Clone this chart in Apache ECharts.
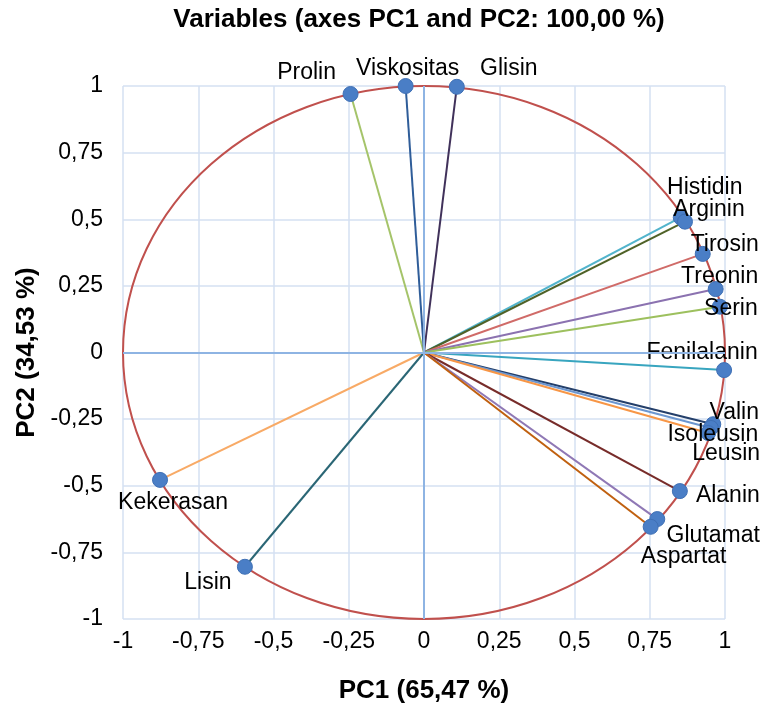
<!DOCTYPE html>
<html>
<head>
<meta charset="utf-8">
<script src="https://cdn.jsdelivr.net/npm/echarts@6/dist/echarts.min.js"></script>
<style>
  html, body { margin: 0; padding: 0; background: #fff; }
  #chart { width: 763px; height: 709px; }
</style>
</head>
<body>
<div id="chart"></div>
<script>
const names = ['Prolin', 'Viskositas', 'Glisin', 'Histidin', 'Arginin', 'Tirosin', 'Treonin', 'Serin',
  'Fenilalanin', 'Valin', 'Isoleusin', 'Leusin', 'Alanin', 'Glutamat', 'Aspartat', 'Kekerasan', 'Lisin']
const pc1 = [-0.244, -0.061, 0.109, 0.853, 0.867, 0.926, 0.969, 0.983,
  0.997, 0.961, 0.953, 0.944, 0.850, 0.775, 0.753, -0.877, -0.595]
const pc2 = [0.970, 1.000, 0.997, 0.507, 0.491, 0.370, 0.238, 0.172,
  -0.066, -0.269, -0.283, -0.302, -0.520, -0.625, -0.654, -0.478, -0.804]
const axisTicks = [-1, -0.75, -0.5, -0.25, 0, 0.25, 0.5, 0.75, 1]
const circleRadius = 1

// styling, kept apart from the data
const lineColors = ['#A5C46A', '#2F5D99', '#40315A', '#52B4CC', '#4F6228', '#D06B68', '#8B72B0', '#9DC05E',
  '#38A5BF', '#243F6A', '#6C96CF', '#F79646', '#772C2A', '#8F78B5', '#C0600F', '#F8AA66', '#2A6675']
const labelOffsets = {
  Prolin: [-44, -21], Viskositas: [2, -17], Glisin: [52, -18], Histidin: [24, -30], Arginin: [24, -12],
  Tirosin: [22, -9], Treonin: [4, -12], Serin: [11, 2], Fenilalanin: [-22, -17], Valin: [21, -12],
  Isoleusin: [2, 7], Leusin: [18, 21], Alanin: [48, 5], Glutamat: [56, 17], Aspartat: [33, 30],
  Kekerasan: [13, 23], Lisin: [-37, 16]
}
const FONT = '"Liberation Sans", Arial, sans-serif'
const fmt = v => String(v).replace('.', ',')

const chart = echarts.init(document.getElementById('chart'))

const vectorSeries = names.map((n, i) => ({
  name: n,
  type: 'line',
  data: [[0, 0], [pc1[i], pc2[i]]],
  showSymbol: false,
  silent: true,
  z: 2,
  lineStyle: { color: lineColors[i], width: 2 }
}))

const option = {
  backgroundColor: '#fff',
  animation: false,
  title: {
    text: 'Variables (axes PC1 and PC2: 100,00 %)',
    left: 419,
    top: 7,
    textAlign: 'center',
    padding: 0,
    textStyle: { fontFamily: FONT, fontSize: 26, fontWeight: 'bold', color: '#000' }
  },
  grid: { left: 123, right: 38, top: 86, bottom: 90 },
  xAxis: {
    type: 'value', min: -1, max: 1, interval: 0.25,
    name: 'PC1 (65,47 %)', nameLocation: 'middle', nameGap: 59,
    nameTextStyle: { fontFamily: FONT, fontSize: 26, fontWeight: 'bold', color: '#000' },
    axisLine: { show: false, onZero: false },
    axisTick: { show: false },
    axisLabel: { margin: 11, fontFamily: FONT, fontSize: 23, color: '#000', formatter: fmt },
    splitLine: { lineStyle: { color: '#D5E1F2', width: 1.5 } }
  },
  yAxis: {
    type: 'value', min: -1, max: 1, interval: 0.25,
    name: 'PC2 (34,53 %)', nameLocation: 'middle', nameGap: 80,
    nameTextStyle: { fontFamily: FONT, fontSize: 26, fontWeight: 'bold', color: '#000' },
    axisLine: { show: false, onZero: false },
    axisTick: { show: false },
    axisLabel: { margin: 20, fontFamily: FONT, fontSize: 23, color: '#000', formatter: fmt },
    splitLine: { lineStyle: { color: '#D5E1F2', width: 1.5 } }
  },
  series: [
    {
      // zero lines
      type: 'line', data: [], silent: true, z: 1,
      markLine: {
        silent: true, symbol: 'none', label: { show: false },
        lineStyle: { color: '#8EB4E3', width: 2, type: 'solid' },
        data: [{ xAxis: 0 }, { yAxis: 0 }]
      }
    },
    ...vectorSeries,
    {
      // correlation circle
      type: 'custom',
      silent: true,
      z: 3,
      clip: false,
      data: [[0, 0, circleRadius]],
      encode: { x: 0, y: 1 },
      renderItem: (params, api) => {
        const c = api.coord([api.value(0), api.value(1)])
        const s = api.size([api.value(2), api.value(2)])
        return {
          type: 'ellipse',
          shape: { cx: c[0], cy: c[1], rx: s[0], ry: s[1] },
          style: { fill: 'none', stroke: '#C0504D', lineWidth: 2 }
        }
      }
    },
    {
      type: 'scatter',
      z: 4,
      symbolSize: 15,
      itemStyle: { color: '#4A7EC6', borderColor: '#3F70B5', borderWidth: 1, opacity: 1 },
      data: names.map((n, i) => ({
        name: n,
        value: [pc1[i], pc2[i]],
        label: {
          show: true, position: 'inside', offset: labelOffsets[n],
          formatter: n, fontFamily: FONT, fontSize: 23, color: '#000',
          textBorderWidth: 0, opacity: 1
        }
      }))
    }
  ]
}

chart.setOption(option)
</script>
</body>
</html>
